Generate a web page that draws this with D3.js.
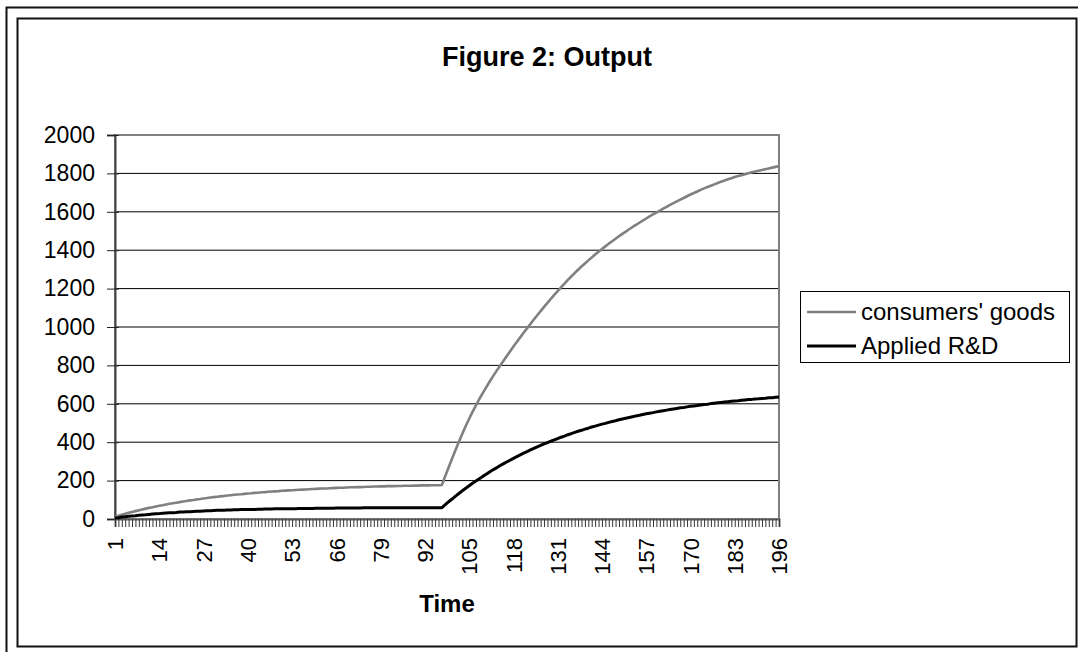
<!DOCTYPE html>
<html>
 <head>
  <title>Figure 2: Output</title>
  <style>
  body {
   margin: 0;
   background-color: white;
  }
  svg {
   display: block;
   font-family: "Liberation Sans", Arial, sans-serif;
  }
  </style>
 </head>

 <body>
  <script src="https://cdnjs.cloudflare.com/ajax/libs/d3/7.8.3/d3.min.js"></script>
  <script>
   // time steps on the category axis
   const categories = d3.range(1, 197);
   const xTickLabels = [1, 14, 27, 40, 53, 66, 79, 92, 105, 118, 131, 144, 157, 170, 183, 196];
   const yTickLabels = [0, 200, 400, 600, 800, 1000, 1200, 1400, 1600, 1800, 2000];
   const seriesNames = ["consumers' goods", "Applied R&D"];

   // consumers' goods, t = 1..196
   const consumersGoods = [
    12, 17, 22, 27, 32, 37, 41, 45, 50, 54,
    58, 61, 65, 69, 72, 76, 79, 82, 85, 88,
    91, 94, 97, 99, 102, 104, 107, 109, 112, 114,
    116, 118, 120, 122, 124, 126, 128, 129, 131, 133,
    134, 136, 137, 139, 140, 142, 143, 144, 145, 147,
    148, 149, 150, 151, 152, 153, 154, 155, 156, 157,
    158, 159, 159, 160, 161, 162, 163, 163, 164, 165,
    165, 166, 166, 167, 168, 168, 169, 169, 170, 170,
    171, 171, 171, 172, 172, 173, 173, 173, 174, 174,
    175, 175, 175, 176, 176, 176, 177,
    224, 270, 315, 359, 402, 444, 484, 522, 558, 592,
    625, 656, 686, 715, 743, 770, 796, 822, 848, 873,
    898, 922, 946, 970, 993, 1016, 1039, 1061, 1083, 1105,
    1126, 1147, 1167, 1187, 1207, 1226, 1245, 1263, 1281, 1298,
    1315, 1331, 1347, 1362, 1377, 1392, 1406, 1420, 1434, 1447,
    1460, 1473, 1485, 1497, 1509, 1521, 1532, 1543, 1554, 1565,
    1576, 1586, 1596, 1606, 1616, 1626, 1636, 1645, 1654, 1663,
    1672, 1681, 1690, 1698, 1706, 1714, 1722, 1729, 1736, 1743,
    1750, 1757, 1763, 1769, 1775, 1781, 1786, 1791, 1796, 1801,
    1806, 1810, 1814, 1818, 1822, 1826, 1830, 1834, 1838
   ];

   // Applied R&D, t = 1..196
   const appliedRD = [
    5, 7, 10, 12, 14, 16, 17, 19, 21, 22,
    24, 26, 27, 28, 30, 31, 32, 33, 34, 36,
    37, 38, 38, 39, 40, 41, 42, 43, 43, 44,
    45, 45, 46, 47, 47, 48, 48, 49, 49, 50,
    50, 50, 51, 51, 52, 52, 52, 53, 53, 53,
    53, 54, 54, 54, 55, 55, 55, 55, 55, 56,
    56, 56, 56, 56, 56, 57, 57, 57, 57, 57,
    57, 57, 57, 58, 58, 58, 58, 58, 58, 58,
    58, 58, 58, 58, 58, 58, 58, 59, 59, 59,
    59, 59, 59, 59, 59, 59, 59,
    75, 90, 104, 119, 133, 147, 160, 173, 186, 198,
    210, 222, 233, 245, 256, 266, 277, 287, 297, 306,
    316, 325, 334, 343, 351, 360, 368, 376, 383, 391,
    398, 405, 412, 419, 426, 432, 439, 445, 451, 457,
    462, 468, 473, 479, 484, 489, 494, 498, 503, 508,
    512, 517, 521, 525, 529, 533, 537, 540, 544, 548,
    551, 554, 558, 561, 564, 567, 570, 573, 576, 579,
    581, 584, 587, 589, 591, 594, 596, 598, 601, 603,
    605, 607, 609, 611, 613, 615, 616, 618, 620, 622,
    623, 625, 626, 628, 629, 631, 632, 634, 635
   ];

   const w = 1078;
   const h = 652;
   const plotLeft = 115, plotRight = 779, plotTop = 135, plotBottom = 519;
   const colors = ["#808080", "#000000"];
   const widths = [2.6, 3];

   const svg = d3.select("body")
                 .append("svg")
                 .attr("width", w)
                 .attr("height", h);

   // outer frame (cropped) and chart area border
   svg.append("rect")
      .attr("x", 6.5).attr("y", 7.5)
      .attr("width", 1200).attr("height", 800)
      .attr("fill", "none").attr("stroke", "#111").attr("stroke-width", 2);
   svg.append("rect")
      .attr("x", 17.5).attr("y", 18.5)
      .attr("width", 1059).attr("height", 628)
      .attr("fill", "white").attr("stroke", "#111").attr("stroke-width", 2);

   const xScale = d3.scaleLinear()
                    .domain([1, 196])
                    .range([plotLeft, plotRight]);
   const yScale = d3.scaleLinear()
                    .domain([0, 2000])
                    .range([plotBottom, plotTop]);

   // gridlines
   svg.append("g")
      .selectAll("line")
      .data(yTickLabels.filter(d => d > 0))
      .enter()
      .append("line")
      .attr("x1", plotLeft).attr("x2", plotRight)
      .attr("y1", d => yScale(d)).attr("y2", d => yScale(d))
      .attr("stroke", "black").attr("stroke-width", 1);

   // plot area border
   svg.append("rect")
      .attr("x", plotLeft).attr("y", plotTop)
      .attr("width", plotRight - plotLeft).attr("height", plotBottom - plotTop)
      .attr("fill", "none").attr("stroke", "#808080").attr("stroke-width", 2);

   // y axis
   const yAxis = d3.axisLeft(yScale)
                   .tickValues(yTickLabels)
                   .tickFormat(d3.format("d"))
                   .tickSize(8)
                   .tickPadding(12);
   const yg = svg.append("g")
                 .attr("id", "y-axis")
                 .attr("transform", "translate(" + plotLeft + ",0)")
                 .call(yAxis);
   yg.select(".domain").attr("stroke", "#444").attr("stroke-width", 2);
   yg.selectAll(".tick line").attr("x2", -8).attr("x1", 4).attr("stroke", "#222");
   yg.selectAll(".tick text")
     .attr("font-size", "23px")
     .attr("fill", "black")
     .attr("font-family", "\"Liberation Sans\", Arial, sans-serif");

   // x axis: a tick for every category, labels every 13
   const xAxis = d3.axisBottom(xScale)
                   .tickValues(categories)
                   .tickSize(8)
                   .tickFormat(d => xTickLabels.includes(d) ? d : "");
   const xg = svg.append("g")
                 .attr("id", "x-axis")
                 .attr("transform", "translate(0," + plotBottom + ")")
                 .call(xAxis);
   xg.select(".domain").attr("stroke", "#666").attr("stroke-width", 2);
   xg.selectAll(".tick line").attr("stroke", "#333").attr("stroke-width", 1);
   xg.selectAll(".tick text")
     .attr("font-size", "22px")
     .attr("fill", "black")
     .attr("font-family", "\"Liberation Sans\", Arial, sans-serif")
     .attr("text-anchor", "end")
     .attr("transform", "rotate(-90)")
     .attr("x", -19)
     .attr("y", 0)
     .attr("dy", "0.35em");

   // series lines
   const series = [consumersGoods, appliedRD];
   const line = d3.line()
                  .x((d, i) => xScale(categories[i]))
                  .y(d => yScale(d));
   series.forEach((s, i) => {
    svg.append("path")
       .datum(s)
       .attr("d", line)
       .attr("fill", "none")
       .attr("stroke", colors[i])
       .attr("stroke-width", widths[i])
       .attr("stroke-linejoin", "round");
   });

   // title and axis title
   svg.append("text")
      .attr("x", 547).attr("y", 66)
      .attr("text-anchor", "middle")
      .attr("font-size", "27px")
      .attr("font-weight", "bold")
      .text("Figure 2: Output");
   svg.append("text")
      .attr("x", (plotLeft + plotRight) / 2).attr("y", 612)
      .attr("text-anchor", "middle")
      .attr("font-size", "24px")
      .attr("font-weight", "bold")
      .text("Time");

   // legend
   const legend = svg.append("g");
   legend.append("rect")
         .attr("x", 800.5).attr("y", 291.5)
         .attr("width", 269).attr("height", 71)
         .attr("fill", "white").attr("stroke", "black").attr("stroke-width", 1);
   seriesNames.forEach((name, i) => {
    const y = 312 + i * 34;
    legend.append("line")
          .attr("x1", 807).attr("x2", 856)
          .attr("y1", y).attr("y2", y)
          .attr("stroke", colors[i]).attr("stroke-width", widths[i]);
    legend.append("text")
          .attr("x", 861).attr("y", y)
          .attr("dy", "0.35em")
          .attr("font-size", "24px")
          .text(name);
   });
  </script>
 </body>
</html>
